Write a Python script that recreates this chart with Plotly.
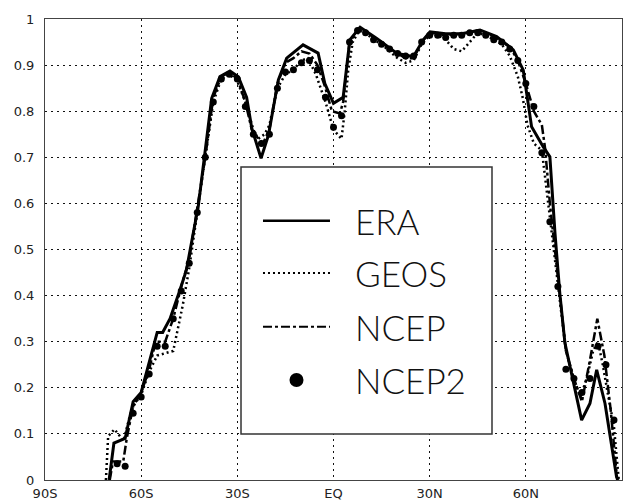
import plotly.graph_objects as go

# ---------------- data ----------------
era_lat = [-70.0, -68.5, -65.0, -62.5, -60.0, -55.7, -55.0, -53.3, -51.0, -48.0, -45.9, -42.2, -40.1,
           -38.0, -35.4, -32.3, -29.7, -27.1, -25.5, -22.6, -20.3, -17.2, -14.6, -9.5, -4.8, -2.7,
           0.0, 3.0, 5.1, 8.3, 13.5, 19.7, 24.9, 28.0, 30.1, 35.0, 40.0, 45.7, 50.9, 56.1, 59.2,
           61.8, 65.4, 67.5, 69.1, 70.6, 72.2, 74.3, 77.4, 80.0, 82.1, 84.7, 88.3, 88.8]
era_val = [0.0, 0.08, 0.09, 0.17, 0.19, 0.30, 0.32, 0.32, 0.35, 0.41, 0.455, 0.593, 0.705,
           0.828, 0.875, 0.887, 0.875, 0.83, 0.763, 0.698, 0.748, 0.868, 0.915, 0.944, 0.926, 0.86,
           0.817, 0.83, 0.955, 0.982, 0.958, 0.926, 0.918, 0.955, 0.972, 0.968, 0.968, 0.976, 0.962, 0.933, 0.889,
           0.766, 0.723, 0.701, 0.535, 0.405, 0.297, 0.231, 0.130, 0.166, 0.239, 0.166, 0.007, 0.0]

geos_lat = [-71.0, -70.3, -68.3, -65.5, -63.5, -62.0, -60.0, -57.5, -55.0, -52.5, -50.0, -48.5, -47.0,
            -45.0, -42.5, -40.0, -37.5, -35.0, -32.5, -30.0, -27.5, -25.0, -23.5, -21.5, -20.0, -17.5,
            -15.0, -12.5, -10.0, -8.0, -5.5, -2.5, 0.0, 2.5, 3.5, 4.6, 6.0, 8.0, 10.0, 12.5, 15.0, 17.5,
            20.0, 22.5, 25.0, 27.5, 30.0, 32.5, 35.0, 37.5, 40.0, 42.5, 45.0, 47.5, 50.0, 52.5, 55.0,
            57.5, 59.0, 60.5, 62.5, 65.0, 67.5, 70.0, 72.5, 75.0, 77.0, 79.0, 81.0, 82.5, 84.0, 85.5,
            87.5, 89.0]
geos_val = [0.0, 0.095, 0.11, 0.085, 0.14, 0.165, 0.185, 0.235, 0.27, 0.275, 0.28, 0.33, 0.38,
            0.46, 0.58, 0.70, 0.82, 0.87, 0.88, 0.865, 0.82, 0.76, 0.74, 0.75, 0.77, 0.85,
            0.88, 0.89, 0.91, 0.915, 0.88, 0.82, 0.76, 0.74, 0.80, 0.89, 0.95, 0.975, 0.97, 0.955, 0.945, 0.93,
            0.915, 0.905, 0.91, 0.945, 0.965, 0.965, 0.955, 0.935, 0.93, 0.95, 0.97, 0.965, 0.955, 0.945, 0.92,
            0.875, 0.83, 0.77, 0.73, 0.715, 0.57, 0.42, 0.28, 0.22, 0.18, 0.22, 0.28, 0.30, 0.25, 0.19,
            0.115, 0.0]

ncep_lat = [-69.8, -68.8, -65.6, -64.5, -62.5, -60.0, -57.5, -55.5, -52.5, -50.0, -47.5, -45.0, -42.5,
            -40.0, -37.5, -35.0, -32.5, -30.0, -27.5, -25.5, -24.0, -22.0, -20.0, -17.5, -15.0, -12.5,
            -10.0, -7.5, -5.0, -2.5, -0.5, 2.0, 3.0, 5.0, 8.0, 10.0, 12.5, 15.0, 17.5, 20.0, 22.5, 25.0,
            27.5, 30.0, 35.0, 40.0, 45.0, 50.0, 55.0, 57.5, 60.0, 62.5, 65.0, 66.0, 67.5, 70.0, 72.5,
            75.0, 77.5, 80.0, 82.3, 84.5, 86.5, 88.5]
ncep_val = [0.0, 0.04, 0.04, 0.09, 0.16, 0.19, 0.24, 0.30, 0.30, 0.35, 0.42, 0.48, 0.59,
            0.70, 0.83, 0.875, 0.885, 0.87, 0.82, 0.76, 0.745, 0.73, 0.76, 0.86, 0.905, 0.915,
            0.93, 0.925, 0.90, 0.85, 0.80, 0.795, 0.82, 0.95, 0.98, 0.975, 0.96, 0.95, 0.935, 0.925, 0.915, 0.915,
            0.95, 0.97, 0.965, 0.968, 0.975, 0.962, 0.94, 0.91, 0.86, 0.80, 0.77, 0.72, 0.60, 0.44, 0.28,
            0.22, 0.17, 0.26, 0.35, 0.27, 0.15, 0.0]

ncep2_lat = [-67.5, -65.0, -62.5, -60.0, -57.5, -55.0, -52.5, -50.0, -47.5, -45.0, -42.5, -40.0, -37.5,
             -35.0, -32.5, -30.0, -27.5, -25.0, -22.5, -20.0, -17.5, -15.0, -12.5, -10.0, -7.5, -5.0,
             -2.5, 0.0, 2.5, 5.0, 7.5, 10.0, 12.5, 15.0, 17.5, 20.0, 22.5, 25.0, 27.5, 30.0, 32.5, 35.0,
             37.5, 40.0, 42.5, 45.0, 47.5, 50.0, 52.5, 55.0, 57.5, 60.0, 62.5, 65.0, 67.5, 70.0, 72.5,
             75.0, 77.5, 80.0, 82.5, 85.0, 87.5]
ncep2_val = [0.035, 0.03, 0.145, 0.18, 0.23, 0.29, 0.29, 0.35, 0.41, 0.47, 0.58, 0.70, 0.82,
             0.87, 0.88, 0.87, 0.81, 0.75, 0.73, 0.75, 0.85, 0.885, 0.89, 0.905, 0.91, 0.89,
             0.83, 0.765, 0.79, 0.95, 0.975, 0.97, 0.955, 0.945, 0.935, 0.925, 0.92, 0.92, 0.95, 0.965, 0.965, 0.96,
             0.965, 0.965, 0.97, 0.97, 0.965, 0.955, 0.95, 0.935, 0.91, 0.86, 0.81, 0.71, 0.56, 0.42, 0.24,
             0.22, 0.19, 0.22, 0.29, 0.25, 0.13]

x_ticks = [-90, -60, -30, 0, 30, 60, 90]
x_labels = ["90S", "60S", "30S", "EQ", "30N", "60N", "90N"]
y_ticks = [0, 0.1, 0.2, 0.3, 0.4, 0.5, 0.6, 0.7, 0.8, 0.9, 1.0]
y_labels = ["0", "0.1", "0.2", "0.3", "0.4", "0.5", "0.6", "0.7", "0.8", "0.9", "1"]
legend_names = ["ERA", "GEOS", "NCEP", "NCEP2"]

# ---------------- figure ----------------
fig = go.Figure()
fig.add_trace(go.Scatter(x=geos_lat, y=geos_val, mode="lines", name="GEOS",
                         line=dict(color="black", width=2.5, dash="2px,3px")))
fig.add_trace(go.Scatter(x=ncep_lat, y=ncep_val, mode="lines", name="NCEP",
                         line=dict(color="black", width=2.5, dash="9px,3px,3px,3px")))
fig.add_trace(go.Scatter(x=era_lat, y=era_val, mode="lines", name="ERA",
                         line=dict(color="black", width=3)))
fig.add_trace(go.Scatter(x=ncep2_lat, y=ncep2_val, mode="markers", name="NCEP2",
                         marker=dict(color="black", size=7)))

# the page body adds an 8px offset, so the figure is sized 8px smaller
tick_font = dict(family="DejaVu Sans", size=13, color="#222")
fig.update_layout(
    width=627, height=494,
    margin=dict(l=37, r=13, t=11, b=22),
    paper_bgcolor="white", plot_bgcolor="white",
    showlegend=False,
    xaxis=dict(range=[-90, 90], tickvals=x_ticks, ticktext=x_labels, tickfont=tick_font,
               showgrid=True, gridcolor="#111", gridwidth=1, griddash="2px,4px",
               zeroline=False, showline=True, linecolor="#444", linewidth=1, mirror=True,
               ticks="outside", ticklen=1, tickcolor="rgba(0,0,0,0)", automargin=False),
    yaxis=dict(range=[0, 1], tickvals=y_ticks, ticktext=y_labels, tickfont=tick_font,
               showgrid=True, gridcolor="#111", gridwidth=1, griddash="2px,4px",
               zeroline=False, showline=True, linecolor="#444", linewidth=1, mirror=True,
               ticks="outside", ticklen=7, tickcolor="rgba(0,0,0,0)", automargin=False),
)

# ---------------- manual legend box ----------------
bx0, bx1, by0, by1 = 0.3397, 0.7747, 0.0998, 0.679
fig.add_shape(type="rect", xref="paper", yref="paper", x0=bx0, x1=bx1, y0=by0, y1=by1,
              line=dict(color="#333", width=1.5), fillcolor="white", layer="above")
rows = [0.5625, 0.449, 0.3325, 0.217]
lx0, lx1 = 0.3778, 0.4939
styles = [dict(color="black", width=2.5),
          dict(color="black", width=2, dash="2px,3px"),
          dict(color="black", width=2, dash="9px,3px,3px,3px")]
for yy, st in zip(rows[:3], styles):
    fig.add_shape(type="line", xref="paper", yref="paper", x0=lx0, x1=lx1, y0=yy, y1=yy,
                  line=st, layer="above")
fig.add_shape(type="circle", xref="paper", yref="paper", xsizemode="pixel", ysizemode="pixel",
              xanchor=(lx0 + lx1) / 2, yanchor=rows[3], x0=-7, x1=7, y0=-7, y1=7,
              fillcolor="black", line=dict(color="black", width=0), layer="above")
for yy, name in zip(rows, legend_names):
    fig.add_annotation(xref="paper", yref="paper", x=0.534, y=yy, text=name, showarrow=False,
                       xanchor="left", yanchor="middle",
                       font=dict(family="Lato", size=35, color="#111", weight=300))

fig.write_html("out.html")
